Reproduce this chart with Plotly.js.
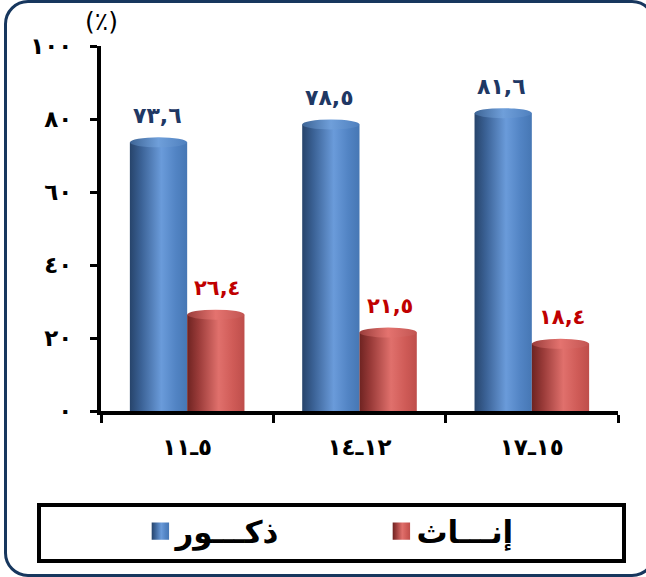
<!DOCTYPE html>
<html><head><meta charset="utf-8">
<script src="https://cdn.plot.ly/plotly-3.0.1.min.js"></script>
<style>
html,body{margin:0;padding:0;overflow:hidden;background:#fff;}
#chart{width:646px;height:577px;}
#frame{position:absolute;left:4px;top:0;width:652px;height:577px;box-sizing:border-box;border:3px solid #17375E;border-radius:24px;pointer-events:none;}
.ytick text{letter-spacing:6px;}
.xtick text{letter-spacing:5px;}
.annotation-text{letter-spacing:3px;}
</style></head>
<body><div id="chart"></div><div id="frame"></div>
<script>
// ---- data ----
const categories = ['٥ـ١١', '١٢ـ١٤', '١٥ـ١٧'];
const seriesNames = ['ذكـــور', 'إنـــاث'];
const males = [73.6, 78.5, 81.6];
const females = [26.4, 21.5, 18.4];
const maleLabels = ['٧٣,٦', '٧٨,٥', '٨١,٦'];
const femaleLabels = ['٢٦,٤', '٢١,٥', '١٨,٤'];
const yTickVals = [0, 20, 40, 60, 80, 100];
const yTickText = ['٠', '٢٠', '٤٠', '٦٠', '٨٠', '١٠٠'];
const yUnit = '(٪)';

const FONT = 'DejaVu Sans, sans-serif';
const BLUE = '#4F81BD', RED = '#C0504D';

const traces = [
  {type:'bar', name:seriesNames[0], x:categories, y:males, marker:{color:BLUE}, hoverinfo:'none'},
  {type:'bar', name:seriesNames[1], x:categories, y:females, marker:{color:RED}, hoverinfo:'none'}
];

const annotations = [];
categories.forEach((c, i) => {
  annotations.push({x:c, y:males[i], text:maleLabels[i], xref:'x', yref:'y', showarrow:false,
    xshift:-30, yshift:27, yanchor:'middle',
    font:{family:FONT, size:22, color:'#1F3864', weight:'bold'}});
  annotations.push({x:c, y:females[i], text:femaleLabels[i], xref:'x', yref:'y', showarrow:false,
    xshift:30, yshift:27, yanchor:'middle',
    font:{family:FONT, size:21, color:'#C00000', weight:'bold'}});
});
annotations.push({x:0, y:1, xref:'paper', yref:'paper', text:yUnit, showarrow:false,
  xanchor:'center', yanchor:'bottom', yshift:8, font:{family:FONT, size:25, color:'#000'}});

const layout = {
  width:646, height:577,
  margin:{l:101, r:28, t:46, b:166, pad:0},
  paper_bgcolor:'rgba(0,0,0,0)', plot_bgcolor:'rgba(0,0,0,0)',
  barmode:'group', bargap:0.335, bargroupgap:0,
  showlegend:true,
  xaxis:{type:'category', showline:true, linewidth:4, linecolor:'#000', ticks:'outside', tickson:'boundaries',
    ticklen:8, tickwidth:3, tickcolor:'#000', showgrid:false, zeroline:false, ticklabelstandoff:12,
    tickfont:{family:FONT, size:23, color:'#000', weight:'bold'}},
  yaxis:{range:[0,100], tickvals:yTickVals, ticktext:yTickText, showline:true, linewidth:4, linecolor:'#000',
    ticks:'outside', ticklen:7, tickwidth:3, tickcolor:'#000', showgrid:false, zeroline:false, ticklabelstandoff:13,
    tickfont:{family:FONT, size:23, color:'#000', weight:'bold'}},
  legend:{orientation:'h', x:0.0665, xanchor:'left', y:-0.33, yanchor:'middle', bgcolor:'rgba(0,0,0,0)',
    borderwidth:0, entrywidth:196, entrywidthmode:'pixels', itemwidth:30, traceorder:'normal',
    font:{family:FONT, size:31, color:'#000', weight:'bold'}},
  shapes:[{type:'rect', xref:'paper', yref:'paper', x0:(39-101)/517, x1:(624-101)/517,
    y0:(411-505)/365, y1:(411-561)/365, line:{color:'#000', width:4}, fillcolor:'rgba(0,0,0,0)'}],
  annotations:annotations
};

Plotly.newPlot('chart', traces, layout, {displayModeBar:false, staticPlot:true}).then(gd => {
  const NS = 'http://www.w3.org/2000/svg';
  const svg = gd.querySelector('.main-svg');
  const defs = document.createElementNS(NS, 'defs');
  function grad(id, stops) {
    const g = document.createElementNS(NS, 'linearGradient');
    g.setAttribute('id', id); g.setAttribute('x1','0'); g.setAttribute('x2','1'); g.setAttribute('y1','0'); g.setAttribute('y2','0');
    stops.forEach(([o,c]) => { const s = document.createElementNS(NS,'stop'); s.setAttribute('offset', o); s.setAttribute('stop-color', c); g.appendChild(s); });
    defs.appendChild(g);
  }
  grad('gB', [['0','#27446B'],['0.2','#3B6296'],['0.55','#6A9BDA'],['0.8','#5284C4'],['1','#4677B4']]);
  grad('gR', [['0','#6E2321'],['0.2','#9A3B39'],['0.55','#E0706C'],['0.8','#CF5B57'],['1','#BE4E4B']]);
  grad('gBc', [['0','#3E6596'],['0.5','#6F9FDA'],['1','#4F80BE']]);
  grad('gRc', [['0','#9A3D3B'],['0.5','#E4736F'],['1','#C25552']]);
  svg.insertBefore(defs, svg.firstChild);
  const ids = [['gB','gBc'],['gR','gRc']];
  gd.querySelectorAll('.barlayer .trace').forEach((t, ti) => {
    t.querySelectorAll('.point path').forEach(p => {
      p.style.fill = 'url(#' + ids[ti][0] + ')';
      const b = p.getBBox();
      const e = document.createElementNS(NS, 'ellipse');
      e.setAttribute('cx', b.x + b.width/2); e.setAttribute('cy', b.y);
      e.setAttribute('rx', b.width/2); e.setAttribute('ry', 5);
      e.setAttribute('fill', 'url(#' + ids[ti][1] + ')');
      p.parentNode.appendChild(e);
    });
  });
  gd.querySelectorAll('.legend .traces').forEach((t, ti) => {
    t.querySelectorAll('.legendpoints path').forEach(p => {
      p.style.fill = 'url(#' + ids[ti][0] + ')';
      p.setAttribute('transform', 'translate(25,0) scale(1.45)');
    });
  });
});
</script>
</body></html>
